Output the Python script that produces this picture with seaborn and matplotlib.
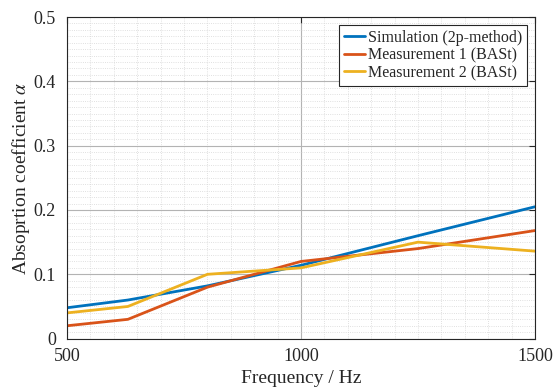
import numpy as np
import pandas as pd
import matplotlib
matplotlib.use("Agg")
import matplotlib.pyplot as plt
import seaborn as sns
from matplotlib.ticker import MultipleLocator, FuncFormatter

# Third-octave band centre frequencies (Hz)
freq = [500, 630, 800, 1000, 1250, 1500]
sim_2p = [0.048, 0.060, 0.082, 0.114, 0.160, 0.205]
meas_1 = [0.020, 0.030, 0.080, 0.120, 0.140, 0.168]
meas_2 = [0.040, 0.050, 0.100, 0.110, 0.150, 0.136]
series_names = ["Simulation (2p-method)", "Measurement 1 (BASt)", "Measurement 2 (BASt)"]
colors = ["#0072BD", "#D95319", "#EDB120"]

df = pd.DataFrame({
    "freq": freq * 3,
    "alpha": sim_2p + meas_1 + meas_2,
    "series": [n for n in series_names for _ in freq],
})

sns.set_theme(style="white")
plt.rcParams["font.family"] = ["Liberation Serif", "DejaVu Serif"]
plt.rcParams["mathtext.fontset"] = "stix"

fig = plt.figure(figsize=(5.59, 3.87), dpi=100)
ax = fig.add_axes([0.12, 0.125, 0.837, 0.831])

sns.lineplot(data=df, x="freq", y="alpha", hue="series", hue_order=series_names,
             palette=colors, linewidth=2, ax=ax, legend=True)

ax.set_xlim(500, 1500)
ax.set_ylim(0, 0.5)
ax.xaxis.set_major_locator(MultipleLocator(500))
ax.xaxis.set_minor_locator(MultipleLocator(50))
ax.yaxis.set_major_locator(MultipleLocator(0.1))
ax.yaxis.set_minor_locator(MultipleLocator(0.01))
ax.yaxis.set_major_formatter(FuncFormatter(lambda v, p: "0" if abs(v) < 1e-9 else f"{v:g}"))

ax.grid(which="major", color="#b3b3b3", linewidth=0.8, linestyle="-")
ax.grid(which="minor", color="#d6d6d6", linewidth=0.6, linestyle=":")
ax.set_axisbelow(True)

for sp in ax.spines.values():
    sp.set_color("#262626")
    sp.set_linewidth(0.8)
ax.tick_params(which="major", direction="in", length=4, width=0.8, color="#262626",
               top=True, right=True, labelsize=13, labelcolor="#262626")
ax.tick_params(axis="x", which="major", pad=7)
ax.tick_params(axis="y", which="major", pad=8)
ax.tick_params(which="minor", length=0, top=False, right=False)

ax.set_xlabel("Frequency / Hz", fontsize=14, color="#262626", labelpad=3)
ax.set_ylabel(r"Absoprtion coefficient $\alpha$", fontsize=14, color="#262626", labelpad=1)

leg = ax.legend(loc="upper right", fontsize=11.5, frameon=True, fancybox=False,
                edgecolor="#262626", handlelength=1.3, handletextpad=0.2,
                borderpad=0.3, labelspacing=0.1, borderaxespad=0.5)
leg.get_frame().set_linewidth(0.8)
leg.get_frame().set_alpha(1)

fig.savefig("out.png", dpi=100)
